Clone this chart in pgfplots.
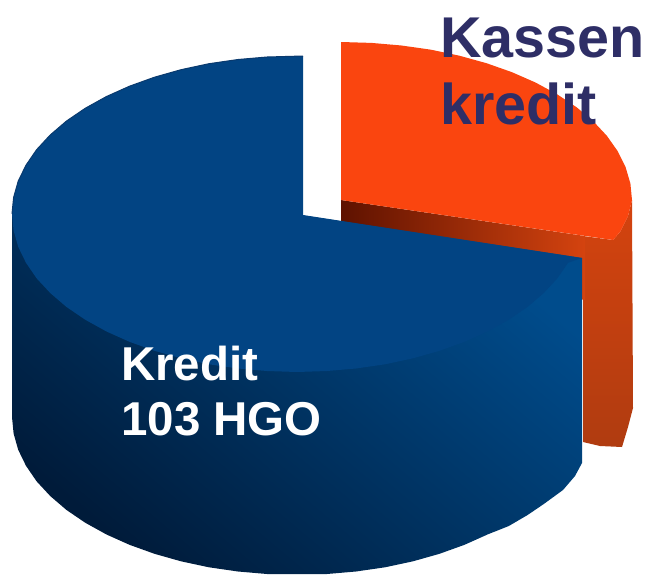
\documentclass[border=0pt]{standalone}
\usepackage{pgfplots}
\pgfplotsset{compat=1.18}
\usepackage{fontspec}
\setmainfont{Liberation Sans}
\definecolor{kasse}{HTML}{2E2E66}
\definecolor{topblue}{HTML}{024483}
\definecolor{rimblue}{HTML}{0A3A6E}
\definecolor{sidedark}{HTML}{001B3A}
\definecolor{sidemid}{HTML}{00264E}
\definecolor{sidelight}{HTML}{004C8C}
\definecolor{toporange}{HTML}{FA450F}
\definecolor{walldark}{HTML}{B03C10}
\definecolor{walllight}{HTML}{D4430F}
\definecolor{innerdark}{HTML}{5E1200}
\begin{document}
\begin{tikzpicture}
\begin{axis}[
    scale only axis,
    width=649pt, height=574pt,
    xmin=0, xmax=649, ymin=0, ymax=574,
    y dir=reverse,
    hide axis,
    no markers,
]
% keeps the page as large as the whole reference
\path (rel axis cs:0,0) rectangle (rel axis cs:1,1);
% Kassenkredit: outer wall
\addplot[draw=none, top color=walllight, bottom color=walldark] coordinates {
    (583,236) (613,240) (620,232) (628,216) (632,200) (633,408) (628,427)
    (622,447) (600,446) (583,442)
} -- cycle;
% Kassenkredit: inner wall
\addplot[draw=none, left color=innerdark, right color=walllight] coordinates {
    (341,200) (585,236) (585,300) (341,260)
} -- cycle;
% Kassenkredit: top
\addplot[draw=none, fill=toporange] coordinates {
    (341,42) (371.4,42.9) (401.5,45.5) (431,49.7) (459.4,55.7) (486.5,63.2)
    (512,72.2) (535.7,82.6) (557.2,94.3) (576.4,107.1) (593,121) (606.8,135.7)
    (617.7,151.2) (625.6,167.2) (630.4,183.5) (632,200) (628,216) (620,232)
    (613,240) (341,200)
} -- cycle;
% Kredit: side
\addplot[draw=none, left color=sidedark, middle color=sidemid, right color=sidelight, shading angle=140] coordinates {
    (12,214) (12,417) (13.6,433.5) (18.2,449.8) (26,465.8) (36.6,481.3) (50.2,496)
    (66.4,509.9) (85.2,522.7) (106.3,534.4) (129.5,544.8) (154.5,553.8) (181,561.3)
    (209,567.3) (238,571.5) (267,574) (297,574) (327,574) (356,571.5) (385,567.3)
    (413,561.3) (439.5,553.8) (464.5,544.8) (487.7,534.4) (508.8,526) (527.6,515)
    (543.8,504) (563,490) (575,476) (582,463) (582,258) (300,215)
} -- cycle;
% Kredit: top
\addplot[draw=none, fill=topblue] coordinates {
    (303,56) (267,57) (238,59.5) (209,63.7) (181,69.7) (154.5,77.2) (129.5,86.2)
    (106.3,96.6) (85.2,108.3) (66.4,121.1) (50.2,135) (36.6,149.7) (26,165.2)
    (18.2,181.2) (13.6,197.5) (12,214) (13.6,230.5) (18.2,246.8) (26,262.8)
    (36.6,278.3) (50.2,293) (66.4,306.9) (85.2,319.7) (106.3,331.4) (129.5,341.8)
    (154.5,350.8) (181,358.3) (209,364.3) (238,368.5) (267,371) (297,372)
    (327,371) (356,368.5) (385,364.3) (413,358.3) (439.5,350.8) (464.5,341.8)
    (487.7,331.4) (508.8,319.7) (527.6,306.9) (543.8,293) (557.4,278.3)
    (568,262.8) (582,258) (303,215)
} -- cycle;
% rim
\addplot[rimblue, line width=1pt] coordinates {
    (303,56) (267,57) (238,59.5) (209,63.7) (181,69.7) (154.5,77.2) (129.5,86.2)
    (106.3,96.6) (85.2,108.3) (66.4,121.1) (50.2,135) (36.6,149.7) (26,165.2)
    (18.2,181.2) (13.6,197.5) (12,214)
};
\node[anchor=base west, inner sep=0pt, text=kasse, font=\fontsize{57.5}{60}\selectfont\bfseries] at (axis cs:440,57) {Kassen};
\node[anchor=base west, inner sep=0pt, text=kasse, font=\fontsize{57.5}{60}\selectfont\bfseries] at (axis cs:440,124) {kredit};
\node[anchor=base west, inner sep=0pt, text=white, font=\fontsize{47.5}{50}\selectfont\bfseries] at (axis cs:121,380) {Kredit};
\node[anchor=base west, inner sep=0pt, text=white, font=\fontsize{47.5}{50}\selectfont\bfseries] at (axis cs:121,435) {103 HGO};
\end{axis}
\end{tikzpicture}
\end{document}
